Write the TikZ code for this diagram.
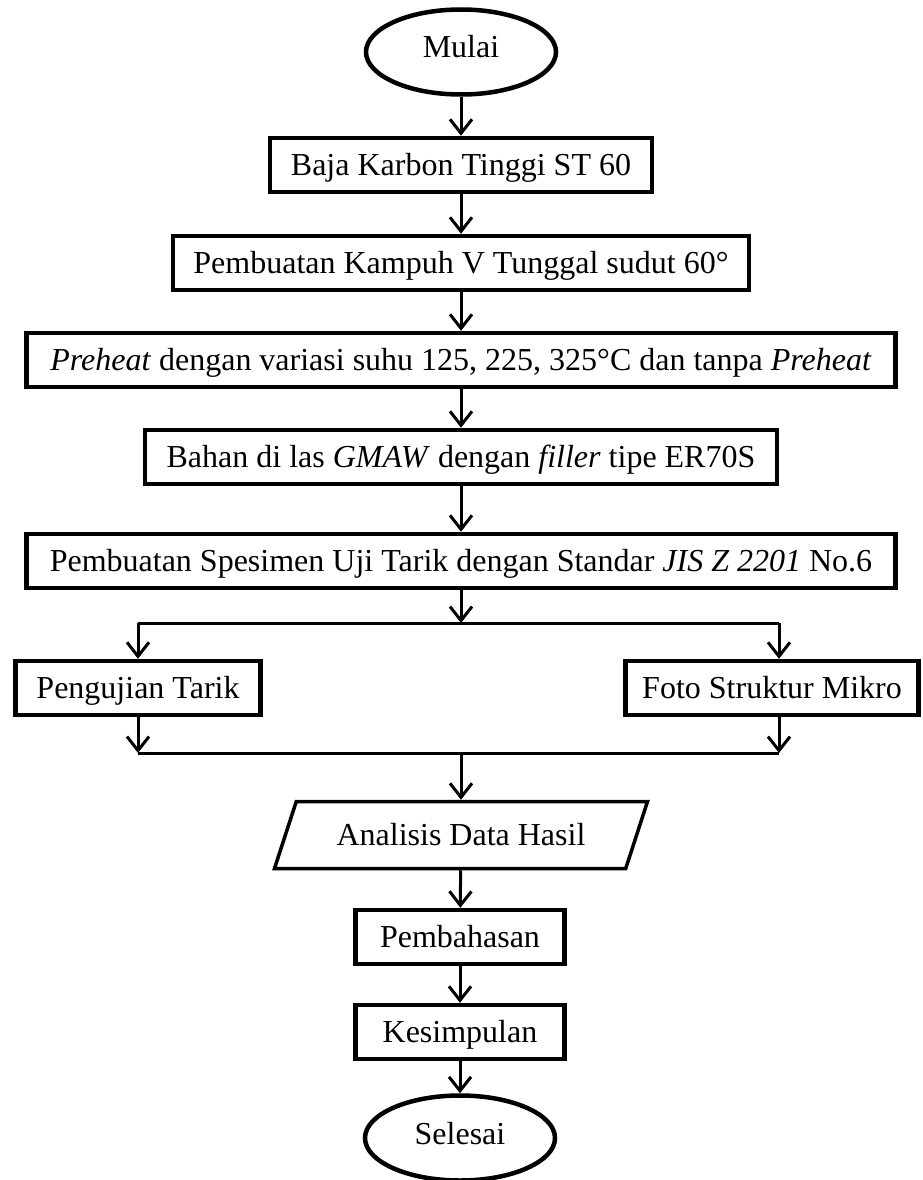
\documentclass[tikz,border=0pt]{standalone}
\usepackage{fontspec}
\setmainfont{Liberation Serif}
\usetikzlibrary{arrows.meta,shapes.geometric}

\tikzset{
  teks/.style={font=\fontsize{32}{38}\selectfont, inner sep=0pt, text height=24pt, text depth=4pt},
  kotak/.style={teks, draw, line width=4.5pt, minimum height=54pt},
  terminal/.style={teks, ellipse, draw, line width=4.5pt, minimum width=190pt, minimum height=85pt,
    text height=22pt, text depth=10pt},
  data/.style={teks, trapezium, trapezium left angle=72, trapezium right angle=108,
    trapezium stretches body, draw, line width=3.5pt, inner ysep=19.5pt, minimum height=67pt},
  panah/.style={line width=3pt, -{Straight Barb[length=14pt,width=22pt]}},
  garis/.style={line width=3pt}
}

\begin{document}
\begin{tikzpicture}[x=1pt, y=-1pt]
  \useasboundingbox (0,0) rectangle (923,1180);

  % Awal
  \node[terminal] (mulai) at (461,52) {Mulai};

  % Proses
  \node[kotak, minimum width=382pt] (baja) at (461,165) {Baja Karbon Tinggi ST 60};
  \node[kotak, minimum width=576pt] (kampuh) at (461,263) {Pembuatan Kampuh V Tunggal sudut 60°};
  \node[kotak, minimum width=869pt] (preheat) at (461,360) {\textit{Preheat} dengan variasi suhu 125, 225, 325°C dan tanpa \textit{Preheat}};
  \node[kotak, minimum width=632pt] (bahan) at (461,457) {Bahan di las \textit{GMAW} dengan \textit{filler} tipe ER70S};
  \node[kotak, minimum width=869pt] (spesimen) at (461,561) {Pembuatan Spesimen Uji Tarik dengan Standar \textit{JIS Z 2201} No.6};

  % Cabang
  \node[kotak, minimum width=245pt] (uji) at (138,688) {Pengujian Tarik};
  \node[kotak, minimum width=293pt] (foto) at (772,688) {Foto Struktur Mikro};
  \coordinate (pisah) at (461,623);
  \coordinate (pisahL) at (138,623);
  \coordinate (pisahR) at (779,623);
  \coordinate (gabung) at (461,753);
  \coordinate (gabungL) at (138,753);
  \coordinate (gabungR) at (779,753);

  % Akhir
  \node[data, minimum width=373pt] (analisis) at (461,835) {Analisis Data Hasil};
  \node[kotak, minimum width=209pt] (bahas) at (460,937) {Pembahasan};
  \node[kotak, minimum width=209pt] (simpul) at (460,1032) {Kesimpulan};
  \node[terminal] (selesai) at (460,1138) {Selesai};

  % Panah
  \draw[panah] (mulai) -- (baja);
  \draw[panah] (baja) -- (kampuh);
  \draw[panah] (kampuh) -- (preheat);
  \draw[panah] (preheat) -- (bahan);
  \draw[panah] (bahan) -- (spesimen);
  \draw[panah] (spesimen) -- (pisah);
  \draw[garis] (pisahL) -- (pisahR);
  \draw[panah] (pisahL) -- (uji);
  \draw[panah] (pisahR) -- (pisahR |- foto.north);
  \draw[panah] (uji) -- (gabungL);
  \draw[panah] (gabungR |- foto.south) -- (gabungR);
  \draw[garis] (gabungL) -- (gabungR);
  \draw[panah] (gabung) -- (analisis);
  \draw[panah] (analisis) -- (bahas);
  \draw[panah] (bahas) -- (simpul);
  \draw[panah] (simpul) -- (selesai);
\end{tikzpicture}
\end{document}
